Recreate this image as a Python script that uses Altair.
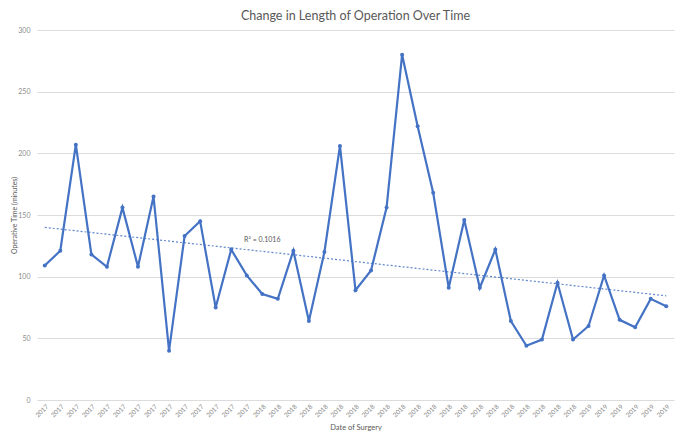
import altair as alt
import pandas as pd

# Data
years = ["2017"] * 14 + ["2018"] * 21 + ["2019"] * 6
minutes = [109, 121, 207, 118, 108, 156, 108, 165, 40, 133,
           145, 75, 122, 101, 86, 82, 121, 64, 120, 206,
           89, 105, 156, 280, 222, 168, 91, 146, 91, 122,
           64, 44, 49, 95, 49, 60, 101, 65, 59, 82, 76]
y_ticks = [0, 50, 100, 150, 200, 250, 300]
r2_label = ["R² = 0.1016"]
r2_pos_idx = [14.0]
r2_pos_val = [130]

df = pd.DataFrame({"idx": list(range(len(minutes))), "year": years, "minutes": minutes})
ann = pd.DataFrame({"idx": r2_pos_idx, "minutes": r2_pos_val, "label": r2_label})

FONT = "Lato"
BLUE = "#4472C4"
label_expr = "[" + ",".join("'%s'" % y for y in years) + "][datum.value]"

x_axis = alt.Axis(
    title="Date of Surgery",
    values=list(range(len(minutes))),
    labelExpr=label_expr,
    labelAngle=-45,
    labelFontSize=6.5,
    labelColor="#8c8c8c",
    labelPadding=3,
    labelOverlap=False,
    labelBound=False,
    labelFlush=False,
    ticks=False,
    domain=False,
    grid=False,
    titleFontSize=7.5,
    titleFontWeight="normal",
    titleColor="#595959",
    titlePadding=5,
)
y_axis = alt.Axis(
    title="Operative Time (minutes)",
    values=y_ticks,
    labelFontSize=7,
    labelColor="#8c8c8c",
    labelPadding=7,
    ticks=False,
    domain=False,
    grid=True,
    gridColor="#dcdcdc",
    gridWidth=1,
    titleFontSize=7,
    titleFontWeight="normal",
    titleColor="#595959",
    titlePadding=0,
)
x_scale = alt.Scale(domain=[-0.5, len(minutes) - 0.5], nice=False, zero=False)
y_scale = alt.Scale(domain=[0, 300], nice=False)


def enc_x():
    return alt.X("idx:Q", scale=x_scale, axis=x_axis)


def enc_y():
    return alt.Y("minutes:Q", scale=y_scale, axis=y_axis)


base = alt.Chart(df)

line = base.mark_line(color=BLUE, strokeWidth=2.2).encode(x=enc_x(), y=enc_y())
pts = base.mark_circle(color=BLUE, size=16, opacity=1).encode(x=enc_x(), y=enc_y())
trend = base.transform_regression("idx", "minutes").mark_line(
    color=BLUE, strokeWidth=1.2, strokeDash=[2, 2], opacity=0.85
).encode(x=enc_x(), y=enc_y())
text = alt.Chart(ann).mark_text(
    fontSize=7, color="#595959", font=FONT, align="center"
).encode(x=enc_x(), y=enc_y(), text="label:N")

chart = alt.layer(line, pts, trend, text).properties(
    width=637,
    height=370,
    title=alt.TitleParams(
        "Change in Length of Operation Over Time",
        fontSize=12.5,
        fontWeight="normal",
        color="#595959",
        font=FONT,
        offset=4,
    ),
    autosize=alt.AutoSizeParams(type="none"),
    padding={"left": 29, "top": 22, "right": 3, "bottom": 40},
).configure(font=FONT).configure_view(stroke=None)

chart.save("out.html", embed_options={"renderer": "svg", "actions": False})
